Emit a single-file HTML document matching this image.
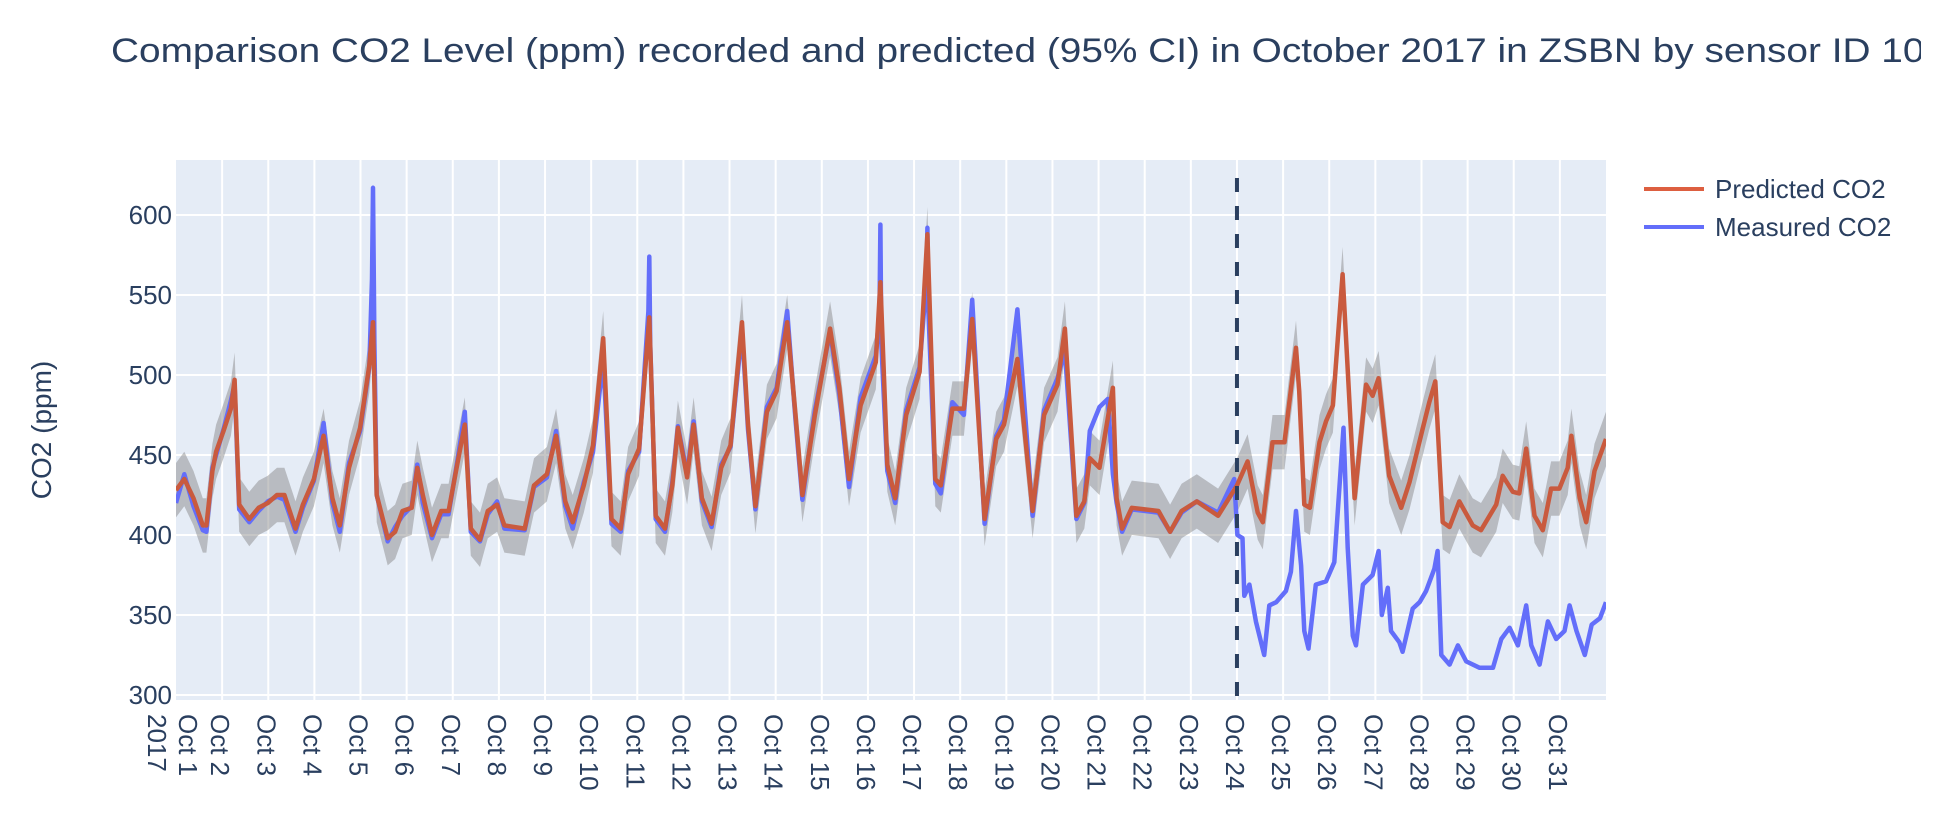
<!DOCTYPE html>
<html><head><meta charset="utf-8"><style>
html,body{margin:0;padding:0;background:#fff;}
svg{display:block;font-family:"Liberation Sans","DejaVu Sans",sans-serif;}
</style></head><body>
<svg id="chart" width="1942" height="818" viewBox="0 0 1942 818" xmlns="http://www.w3.org/2000/svg">
<defs><clipPath id="plotclip"><rect x="176" y="160" width="1430" height="540"/></clipPath>
<clipPath id="titleclip"><rect x="0" y="0" width="1921" height="100"/></clipPath></defs>
<g clip-path="url(#titleclip)">
<text x="111" y="62" font-size="34" fill="#2a3f5f" textLength="1835" lengthAdjust="spacingAndGlyphs">Comparison CO2 Level (ppm) recorded and predicted (95% CI) in October 2017 in ZSBN by sensor ID 103</text>
</g>
<rect x="176" y="160" width="1430" height="540" fill="#e5ecf6"/>
<g id="grid"></g>
<g id="series" clip-path="url(#plotclip)"></g>
<g id="axes"></g>
<text transform="translate(51,430) rotate(-90)" text-anchor="middle" font-size="28" fill="#2a3f5f">CO2 (ppm)</text>
<g>
<line x1="1644" y1="189" x2="1704" y2="189" stroke="#dd5f40" stroke-width="4"/>
<text x="1715" y="198" font-size="26" fill="#2a3f5f">Predicted CO2</text>
<line x1="1644" y1="227" x2="1704" y2="227" stroke="#636efa" stroke-width="4"/>
<text x="1715" y="236" font-size="26" fill="#2a3f5f">Measured CO2</text>
</g>
</svg>
<script>
const yTicks = [300,350,400,450,500,550,600];
const dayLabels = ["Oct 1","Oct 2","Oct 3","Oct 4","Oct 5","Oct 6","Oct 7","Oct 8","Oct 9","Oct 10","Oct 11","Oct 12","Oct 13","Oct 14","Oct 15","Oct 16","Oct 17","Oct 18","Oct 19","Oct 20","Oct 21","Oct 22","Oct 23","Oct 24","Oct 25","Oct 26","Oct 27","Oct 28","Oct 29","Oct 30","Oct 31"];
const forecastStartDay = 23;
const ciHalfWidth = 17;
const predDays = [0,0.18,0.38,0.58,0.66,0.79,0.87,1.03,1.19,1.27,1.37,1.59,1.79,1.99,2.19,2.35,2.59,2.75,2.99,3.2,3.39,3.55,3.75,3.99,4.19,4.27,4.35,4.59,4.75,4.91,5.11,5.23,5.35,5.55,5.75,5.91,6.11,6.26,6.39,6.59,6.76,6.96,7.12,7.56,7.76,8.04,8.24,8.44,8.6,8.84,9.04,9.26,9.44,9.64,9.8,10.04,10.26,10.4,10.6,10.76,10.88,11.08,11.22,11.4,11.61,11.82,12.02,12.27,12.4,12.56,12.81,13.02,13.25,13.43,13.58,13.85,14.18,14.38,14.59,14.84,15.17,15.27,15.42,15.59,15.83,16.12,16.29,16.46,16.58,16.83,17.08,17.26,17.53,17.78,17.95,18.24,18.57,18.82,19.11,19.27,19.52,19.69,19.81,20.02,20.31,20.39,20.51,20.72,21.3,21.55,21.8,22.13,22.59,23.0,23.23,23.45,23.56,23.77,24.03,24.28,24.35,24.46,24.58,24.79,24.93,25.08,25.29,25.55,25.8,25.94,26.07,26.3,26.56,26.74,27.03,27.17,27.3,27.46,27.61,27.82,28.11,28.29,28.62,28.76,28.98,29.12,29.27,29.45,29.63,29.81,29.99,30.17,30.25,30.43,30.57,30.75,31.0];
const predVals = [428,435,423,406,406,440,452,465,479,497,419,410,417,420,425,425,404,419,435,462,423,406,442,467,506,533,425,398,402,415,417,442,425,400,415,415,446,469,404,397,415,419,406,404,431,438,462,421,408,431,456,523,410,404,438,454,536,412,404,431,467,436,469,423,407,442,456,533,469,418,477,490,533,475,425,475,529,492,435,481,508,558,444,423,475,502,588,435,431,479,479,535,410,460,469,510,415,475,494,529,412,421,448,442,492,423,404,417,415,402,415,421,412,431,446,414,408,458,458,517,490,419,417,458,471,481,563,423,494,487,498,437,417,433,467,483,496,408,405,421,406,403,419,437,427,426,454,412,403,429,429,442,462,423,408,440,460];
const measDays = [0,0.18,0.38,0.58,0.66,0.79,0.87,1.03,1.19,1.27,1.37,1.59,1.79,1.99,2.19,2.35,2.59,2.75,2.99,3.2,3.39,3.55,3.75,3.99,4.19,4.25,4.27,4.3,4.35,4.59,4.75,4.91,5.11,5.23,5.35,5.55,5.75,5.91,6.11,6.26,6.39,6.59,6.76,6.96,7.12,7.56,7.76,8.04,8.24,8.44,8.6,8.84,9.04,9.26,9.44,9.64,9.8,10.04,10.24,10.26,10.28,10.4,10.6,10.76,10.88,11.08,11.22,11.4,11.61,11.82,12.02,12.27,12.4,12.56,12.81,13.02,13.25,13.43,13.58,13.85,14.18,14.38,14.59,14.84,15.17,15.25,15.27,15.29,15.42,15.59,15.83,16.12,16.27,16.29,16.31,16.46,16.58,16.83,17.08,17.26,17.53,17.78,17.95,18.24,18.57,18.82,19.11,19.27,19.52,19.69,19.81,20.02,20.2,20.31,20.39,20.51,20.72,21.3,21.55,21.8,22.13,22.59,22.94,23.01,23.12,23.16,23.27,23.41,23.59,23.7,23.85,24.06,24.17,24.28,24.39,24.46,24.55,24.71,24.93,25.11,25.31,25.4,25.51,25.58,25.73,25.94,26.07,26.14,26.27,26.34,26.52,26.59,26.81,26.96,27.1,27.28,27.35,27.43,27.61,27.79,27.97,28.26,28.55,28.73,28.91,29.09,29.27,29.38,29.56,29.74,29.92,30.1,30.21,30.36,30.54,30.69,30.87,31.0];
const measVals = [420,438,418,403,402,442,450,466,484,494,416,408,415,421,424,422,402,417,434,470,420,402,445,465,505,560,617,520,425,396,405,412,418,444,420,398,413,413,448,477,402,396,413,421,404,403,430,436,465,418,404,433,452,510,407,402,440,452,540,574,520,410,402,433,468,438,471,421,405,444,455,528,466,416,480,492,540,472,422,478,527,488,430,486,512,540,594,520,440,420,478,505,560,592,540,432,426,483,475,547,407,462,472,541,412,478,498,515,410,420,465,480,485,438,420,402,416,414,402,414,421,414,435,400,398,362,369,346,325,356,358,365,377,415,381,340,329,369,371,383,467,392,337,331,369,375,390,350,367,340,333,327,354,358,365,379,390,325,319,331,321,317,317,335,342,331,356,331,319,346,335,340,356,340,325,344,348,358];

const X0 = 176, X1 = 1606, NDAYS = 31;
function xScale(d){ return X0 + d * (X1 - X0) / NDAYS; }
function yScale(v){ return 535 - (v - 400) * 1.6; }
const NS = "http://www.w3.org/2000/svg";
function mk(tag, attrs, parent){ const e = document.createElementNS(NS, tag); for (const k in attrs) e.setAttribute(k, attrs[k]); parent.appendChild(e); return e; }

const grid = document.getElementById('grid');
const axes = document.getElementById('axes');
const series = document.getElementById('series');

yTicks.forEach(function(t){
  const y = yScale(t);
  const gl = mk('line', {x1:X0, x2:X1, y1:y, y2:y, stroke:'#ffffff', 'stroke-width':2}, grid);
  
  
  const lb = mk('text', {x:172, y:y+9, 'text-anchor':'end', 'font-size':26, fill:'#2a3f5f'}, axes);
  lb.textContent = t;
  
  
});

dayLabels.forEach(function(lbl, i){
  const x = xScale(i);
  if (i > 0) {
    const gl = mk('line', {x1:x, x2:x, y1:160, y2:700, stroke:'#ffffff', 'stroke-width':2}, grid);
    
    
  }
  const cx = i === 0 ? 188 : x - 2;
  const t = mk('text', {x:cx, y:714, transform:'rotate(90,' + cx + ',714)', 'dominant-baseline':'central', 'font-size':26, fill:'#2a3f5f'}, axes);
  t.textContent = lbl;
  
  
});
const yr = mk('text', {x:157, y:714, transform:'rotate(90,157,714)', 'dominant-baseline':'central', 'font-size':26, fill:'#2a3f5f'}, axes);
yr.textContent = '2017';



let up = '', lo = '';
predDays.forEach(function(d, i){ up += (i ? 'L' : 'M') + xScale(d).toFixed(1) + ',' + yScale(predVals[i] + ciHalfWidth).toFixed(1); });
for (let i = predDays.length - 1; i >= 0; i--) lo += 'L' + xScale(predDays[i]).toFixed(1) + ',' + yScale(predVals[i] - ciHalfWidth).toFixed(1);
const band = mk('path', {d: up + lo + 'Z', fill:'rgba(128,128,128,0.45)', stroke:'none'}, series);



function linePath(ds, vs){ return ds.map(function(d, i){ return (i ? 'L' : 'M') + xScale(d).toFixed(1) + ',' + yScale(vs[i]).toFixed(1); }).join(''); }
const meas = mk('path', {d: linePath(measDays, measVals), fill:'none', stroke:'#636efa', 'stroke-width':4.5, 'stroke-linejoin':'round'}, series);


const pred = mk('path', {d: linePath(predDays, predVals), fill:'none', stroke:'#c95a3e', 'stroke-width':4.5, 'stroke-linejoin':'round'}, series);



const fx = xScale(forecastStartDay);
const dash = mk('line', {x1:fx, x2:fx, y1:178, y2:700, stroke:'#2a3f5f', 'stroke-width':4, 'stroke-dasharray':'14,14'}, axes);


</script>
</body></html>
